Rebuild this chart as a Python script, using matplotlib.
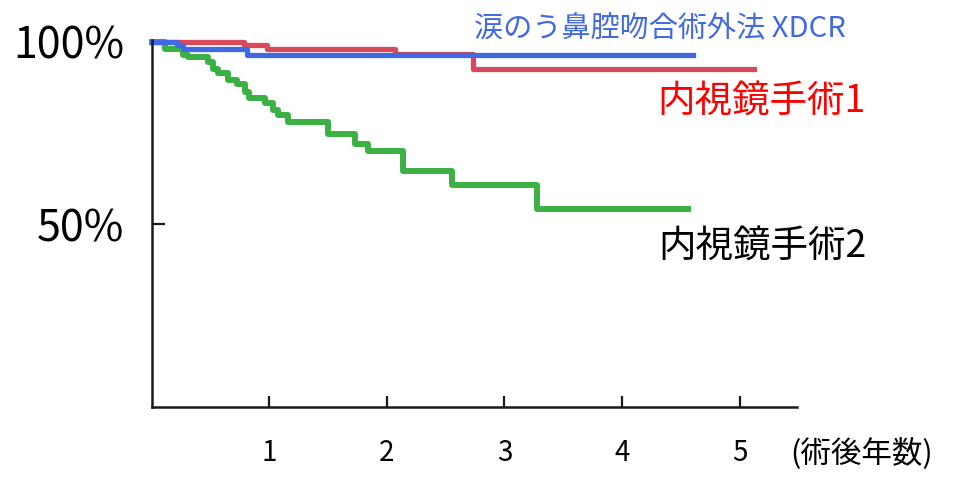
import matplotlib
matplotlib.use("Agg")
import matplotlib.pyplot as plt

plt.rcParams['font.family'] = ['Noto Sans CJK JP', 'DejaVu Sans']

# 涙のう鼻腔吻合術外法 XDCR
xdcr_t = [0, 0.21, 0.26, 0.81, 4.60]
xdcr_s = [100, 99.0, 97.9, 96.4, 96.4]

# 内視鏡手術1
endo1_t = [0, 0.78, 0.98, 2.07, 2.73, 5.12]
endo1_s = [100, 99.2, 97.9, 96.6, 92.5, 92.5]

# 内視鏡手術2
endo2_t = [0, 0.11, 0.26, 0.31, 0.48, 0.52, 0.56, 0.65, 0.72, 0.79, 0.83,
           0.96, 1.03, 1.07, 1.16, 1.50, 1.73, 1.84, 2.14, 2.55, 3.28, 4.56]
endo2_s = [100, 98.0, 96.4, 95.9, 94.5, 92.6, 91.3, 89.6, 88.3, 86.3, 84.7,
           83.1, 81.4, 79.8, 78.1, 74.6, 72.1, 70.2, 64.5, 60.9, 54.1, 54.1]

x_ticks = [1, 2, 3, 4, 5]
y_ticks = [50, 100]
y_labels = ['50%', '100%']

fig = plt.figure(figsize=(9.6, 4.8), dpi=100)
ax = fig.add_axes([0.1583, 0.152, 0.672, 0.765])

ax.step(endo2_t, endo2_s, where='post', color='#3bb143', lw=4.3, clip_on=False)
ax.step(endo1_t, endo1_s, where='post', color='#d84a5a', lw=3.8, clip_on=False)
ax.step(xdcr_t, xdcr_s, where='post', color='#4169e1', lw=3.8, clip_on=False)

ax.set_xlim(0, 5.49)
ax.set_ylim(0, 100.5)

for s in ['top', 'right']:
    ax.spines[s].set_visible(False)
for s in ['left', 'bottom']:
    ax.spines[s].set_linewidth(1.8)
    ax.spines[s].set_color('#1a1a1a')

ax.set_xticks(x_ticks)
ax.set_xticklabels([str(v) for v in x_ticks], fontsize=20)
ax.set_yticks(y_ticks)
ax.set_yticklabels(y_labels, fontsize=31)
ax.tick_params(axis='x', direction='in', length=8, width=1.6, pad=22, colors='#1a1a1a')
ax.tick_params(axis='y', direction='in', length=9, width=1.6, pad=20, colors='#1a1a1a')
for lab in ax.get_yticklabels() + ax.get_xticklabels():
    lab.set_color('black')

ax.text(4.32, 103.5, '涙のう鼻腔吻合術外法 XDCR', color='#4169e1', fontsize=21,
        ha='center', va='center')
ax.text(4.30, 83.6, '内視鏡手術1', color='#ff0000', fontsize=27,
        ha='left', va='center')
ax.text(4.31, 44.0, '内視鏡手術2', color='black', fontsize=27,
        ha='left', va='center')
ax.text(5.43, -12.6, '(術後年数)', color='black', fontsize=22,
        ha='left', va='center')

fig.savefig('out.png', dpi=100)
